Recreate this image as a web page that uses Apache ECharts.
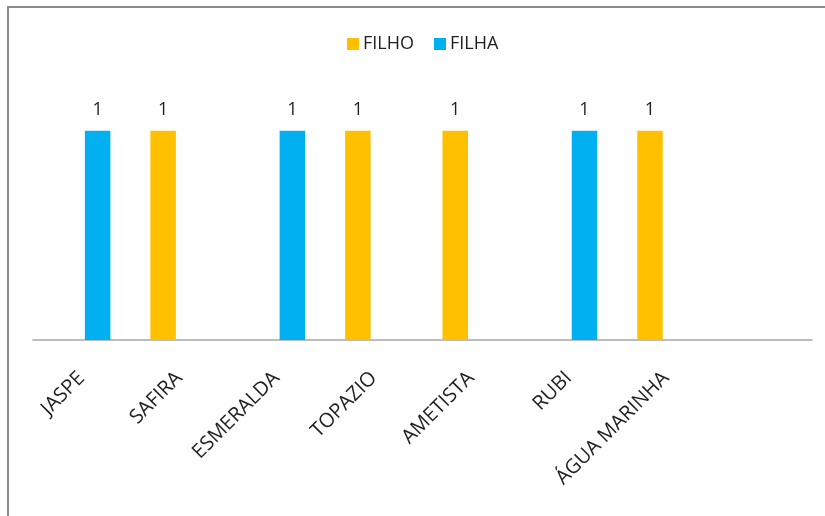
<!DOCTYPE html>
<html>
<head>
<meta charset="utf-8">
<script src="https://cdn.jsdelivr.net/npm/echarts@6/dist/echarts.min.js"></script>
<style>
  html, body { margin: 0; padding: 0; background: #ffffff; }
  #chart { width: 825px; height: 516px; }
</style>
</head>
<body>
<div id="chart"></div>
<script>
// Pedras (categorias); a última posição fica vazia no eixo
const categories = ['JASPE', 'SAFIRA', 'ESMERALDA', 'TOPAZIO', 'AMETISTA', 'RUBI', 'ÁGUA MARINHA', ''];
const filhoValues = [null, 1, null, 1, 1, null, 1, null];
const filhaValues = [1, null, 1, null, null, 1, null, null];
const seriesNames = ['FILHO', 'FILHA'];

const FONT = 'Open Sans';
const chart = echarts.init(document.getElementById('chart'), null, { renderer: 'canvas' });

const labelStyle = {
  show: true,
  position: 'top',
  distance: 12,
  fontFamily: FONT,
  fontSize: 18,
  color: '#1f1f1f'
};

chart.setOption({
  animation: false,
  backgroundColor: '#ffffff',
  graphic: [{
    type: 'rect',
    shape: { x: 8, y: 7, width: 840, height: 540 },
    style: { fill: 'none', stroke: '#8a8a8a', lineWidth: 2 },
    silent: true
  }],
  legend: {
    left: 342,
    top: 30,
    itemWidth: 12,
    itemHeight: 12,
    itemGap: 20,
    icon: 'rect',
    textStyle: { fontFamily: FONT, fontSize: 18, color: '#1f1f1f', padding: [0, 0, 0, -1] },
    data: seriesNames
  },
  grid: { left: 33, right: 13, top: 89, bottom: 176 },
  xAxis: {
    type: 'category',
    data: categories,
    axisLine: { show: true, lineStyle: { color: '#a6a6a6', width: 1.5 } },
    axisTick: { show: false },
    axisLabel: {
      interval: 0,
      rotate: 45,
      margin: 35,
      fontFamily: FONT,
      fontSize: 20,
      color: '#1f1f1f'
    }
  },
  yAxis: {
    type: 'value',
    min: 0,
    max: 1.2,
    show: false,
    splitLine: { show: false }
  },
  series: [
    {
      name: seriesNames[0],
      type: 'bar',
      data: filhoValues,
      barWidth: 25.5,
      barGap: '25%',
      itemStyle: { color: '#FFC000' },
      label: labelStyle
    },
    {
      name: seriesNames[1],
      type: 'bar',
      data: filhaValues,
      barWidth: 25.5,
      barGap: '25%',
      itemStyle: { color: '#00B0F0' },
      label: labelStyle
    }
  ]
});
</script>
</body>
</html>
